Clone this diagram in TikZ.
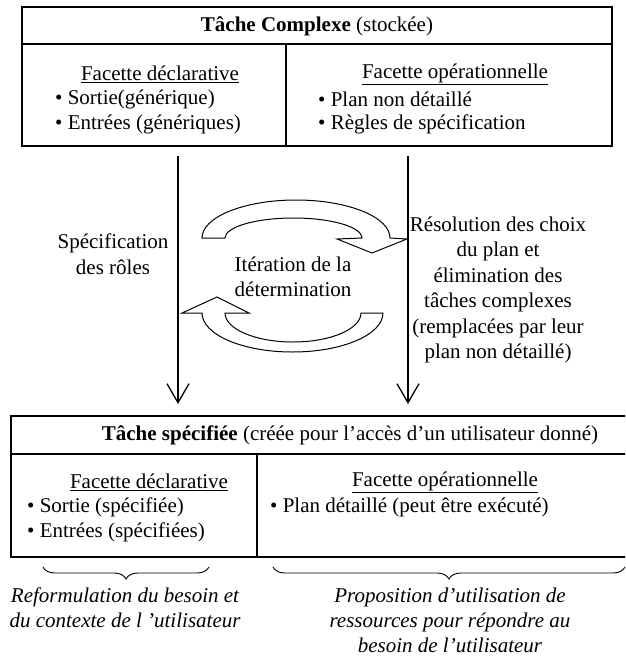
\documentclass[tikz,border=0pt]{standalone}
\usepackage{fontspec}
\setmainfont{Liberation Serif}
\usetikzlibrary{arrows.meta,positioning,calc,decorations.pathreplacing}

\begin{document}
\begin{tikzpicture}[x=1pt,y=-1pt,
  every node/.style={font=\fontsize{21}{25.5}\selectfont,inner sep=0pt},
  cell/.style={line width=1.3pt},
  flow/.style={line width=1.3pt,-{Straight Barb[length=19pt,width=22pt]}},
  turn/.style={line width=1pt,fill=white},
  note/.style={align=center},
  lst/.style={anchor=west},
  remark/.style={align=center,font=\fontsize{21}{25}\selectfont\itshape},
  bracket/.style={line width=0.9pt,decorate,decoration={brace,mirror,amplitude=12pt}}]
  \useasboundingbox (0,0) rectangle (625,657);
  \clip (0,0) rectangle (625,657);

  \draw[cell] (22,7) rectangle (612,146);
  \draw[cell] (22,44) -- (612,44) (286,44) -- (286,146);
  \node (tc) at (317,26) {\textbf{Tâche Complexe} (stockée)};
  \node (fd1) at (160,74) {\underline{Facette déclarative}};
  \node[lst] (s1) at (55,99) {• Sortie(générique)};
  \node[lst] (e1) at (55,124) {• Entrées (génériques)};
  \node (fo1) at (455,74) {\underline{Facette opérationnelle}};
  \node[lst] (p1) at (318,99) {• Plan non détaillé};
  \node[lst] (r1) at (318,124) {• Règles de spécification};

  \coordinate (la) at (178,156);
  \coordinate (lb) at (178,404);
  \coordinate (ra) at (408,156);
  \coordinate (rb) at (408,404);
  \draw[flow] (la) -- (lb);
  \draw[flow] (ra) -- (rb);

  \node[note] (spec) at (113,254) {Spécification\\des rôles};
  \node[note] (iter) at (293,277) {Itération de la\\détermination};
  \node[note] (res) at (498,290) {Résolution des choix\\du plan et\\élimination des\\tâches complexes\\(remplacées par leur\\plan non détaillé)};

  \draw[turn] (202,238) arc[start angle=180,end angle=360,x radius=94,y radius=38]
    -- (407,239) -- (372,253) -- (337,239) -- (362,238)
    arc[start angle=360,end angle=180,x radius=68.5,y radius=20] -- cycle;
  \draw[turn] (361,313) -- (383,313) arc[start angle=0,end angle=180,x radius=90.5,y radius=39]
    -- (182,313) -- (217,297) -- (249,313) -- (225,313)
    arc[start angle=180,end angle=0,x radius=68,y radius=29] -- cycle;

  \draw[cell] (11,416) rectangle (630,557);
  \draw[cell] (11,454) -- (630,454) (257,454) -- (257,557);
  \node (ts) at (350,435) {\textbf{Tâche spécifiée} (créée pour l’accès d’un utilisateur donné)};
  \node (fd2) at (149,482) {\underline{Facette déclarative}};
  \node[lst] (s2) at (27,507) {• Sortie (spécifiée)};
  \node[lst] (e2) at (27,532) {• Entrées (spécifiées)};
  \node (fo2) at (445,482) {\underline{Facette opérationnelle}};
  \node[lst] (p2) at (270,507) {• Plan détaillé (peut être exécuté)};

  \draw[bracket] (43,567) -- (209,567);
  \draw[bracket] (273,567) -- (625,567);
  \node[remark] (reform) at (125,608) {Reformulation du besoin et\\du contexte de l ’utilisateur};
  \node[remark] (prop) at (450,620) {Proposition d’utilisation de\\ressources pour répondre au\\besoin de l’utilisateur};
\end{tikzpicture}
\end{document}
